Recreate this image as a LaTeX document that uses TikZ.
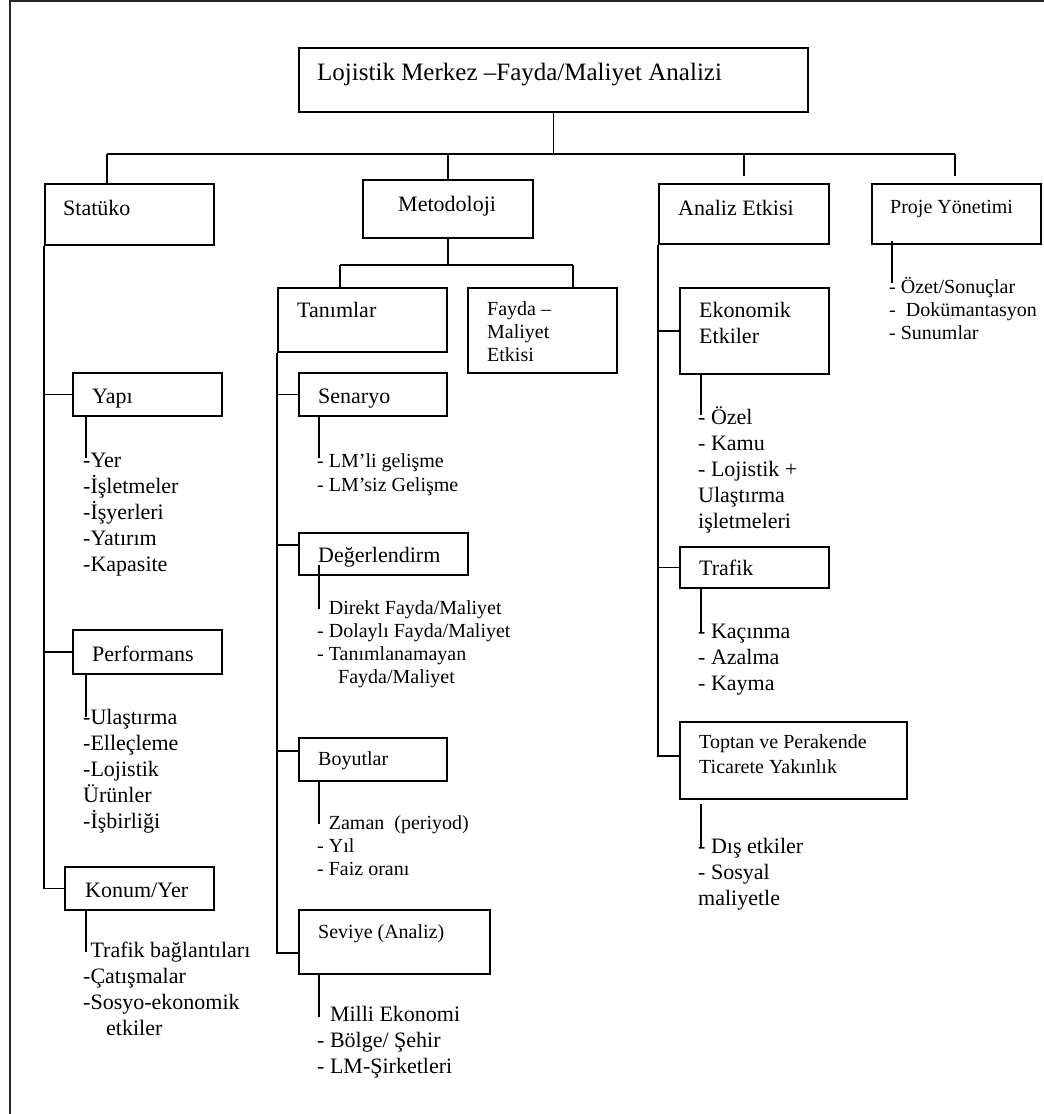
\documentclass[tikz,border=0pt]{standalone}
\usepackage{fontspec}
\setmainfont{Liberation Serif}
\usetikzlibrary{calc}

% type sizes (1pt = one unit of the drawing)
\newcommand\fa{\fontsize{22}{26}\selectfont}
\newcommand\fb{\fontsize{20}{23}\selectfont}
\newcommand\fbw{\fontsize{20}{24.5}\selectfont}
\newcommand\fbt{\fontsize{20}{25}\selectfont}
\newcommand\fc{\fontsize{25}{30}\selectfont}

\tikzset{
  box/.style={draw, line width=1.8pt, rectangle, inner sep=0pt, anchor=north west},
  lbl/.style={anchor=base west, inner sep=0pt, font=\fa},
  lbls/.style={anchor=base west, inner sep=0pt, font=\fb},
  lst/.style={anchor=north west, inner sep=0pt, align=left, font=\fa},
  lsts/.style={anchor=north west, inner sep=0pt, align=left, font=\fb},
  wire/.style={line width=1.8pt},
  frame/.style={line width=2pt, draw=black!85},
}

\begin{document}
\begin{tikzpicture}[x=1pt,y=-1pt]
\useasboundingbox (0,0) rectangle (1044,1114);

% page frame (top and left rules)
\draw[frame] (9.5,1114) -- (9.5,1) -- (1044,1);

% ---------- boxes ----------
\node[box, minimum width=509pt, minimum height=64pt] (title) at (298,47) {};
\node[box, minimum width=169pt, minimum height=61pt] (stat) at (44,183) {};
\node[box, minimum width=170pt, minimum height=58pt] (meto) at (362,179) {};
\node[box, minimum width=170pt, minimum height=60pt] (ana) at (658,183) {};
\node[box, minimum width=169pt, minimum height=60pt] (proj) at (871,183) {};

\node[box, minimum width=169pt, minimum height=64pt] (tan) at (277,287) {};
\node[box, minimum width=149pt, minimum height=85pt] (fay) at (467,287) {};
\node[box, minimum width=148pt, minimum height=43pt] (sen) at (298,372) {};
\node[box, minimum width=169pt, minimum height=42pt] (degr) at (298,532) {};
\node[box, minimum width=148pt, minimum height=43pt] (boy) at (298,737) {};
\node[box, minimum width=191pt, minimum height=64pt] (sev) at (298,909) {};

\node[box, minimum width=149pt, minimum height=43pt] (yapi) at (72,372) {};
\node[box, minimum width=149pt, minimum height=44pt] (perf) at (72,629) {};
\node[box, minimum width=149pt, minimum height=43pt] (konum) at (64,866) {};

\node[box, minimum width=149pt, minimum height=86pt] (eko) at (679,287) {};
\node[box, minimum width=149pt, minimum height=41pt] (traf) at (679,546) {};
\node[box, minimum width=227pt, minimum height=77pt] (topt) at (679,721) {};

% ---------- box captions ----------
\node[lbl, font=\fc] (title-t) at (317,80) {Lojistik Merkez –Fayda/Maliyet Analizi};
\node[lbl] (stat-t) at (63,215) {Statüko};
\node[lbl] (meto-t) at (398,211) {Metodoloji};
\node[lbl] (ana-t) at (678,215) {Analiz Etkisi};
\node[lbls] (proj-t) at (890,213) {Proje Yönetimi};

\node[lbl] (tan-t) at (297,317) {Tanımlar};
\node[lsts] (fay-t) at (487,298.9) {\strut Fayda –\\\strut Maliyet\\\strut Etkisi};
\node[lbl] (sen-t) at (318,403) {Senaryo};
\node[lbl] (degr-t) at (318,562) {Değerlendirm};
\node[lbls] (boy-t) at (318,765) {Boyutlar};
\node[lbls] (sev-t) at (318,938) {Seviye (Analiz)};

\node[lbl] (yapi-t) at (92,403) {Yapı};
\node[lbl] (perf-t) at (92,661) {Performans};
\node[lbl] (konum-t) at (85,897) {Konum/Yer};

\node[lst] (eko-t) at (699,298.8) {\strut Ekonomik\\\strut Etkiler};
\node[lbl] (traf-t) at (699,575) {Trafik};
\node[lsts, font=\fbt] (topt-t) at (699,730.5) {\strut Toptan ve Perakende\\\strut Ticarete Yakınlık};

% ---------- item lists ----------
\node[lst] (yapil) at (83,448.8) {\strut -Yer\\\strut -İşletmeler\\\strut -İşyerleri\\\strut -Yatırım\\\strut -Kapasite};
\node[lst] (perfl) at (83,705.8) {\strut -Ulaştırma\\\strut -Elleçleme\\\strut -Lojistik\\\strut Ürünler\\\strut -İşbirliği};
\node[lst] (konuml) at (83,938.8) {\strut\phantom{-}Trafik bağlantıları\\\strut -Çatışmalar\\\strut -Sosyo-ekonomik\\\strut\hspace{23pt}etkiler};

\node[lsts, font=\fbw] (senl) at (317,449.85) {\strut - LM’li gelişme\\\strut - LM’siz Gelişme};
\node[lsts] (degrl) at (317,597.9) {\strut\phantom{- }Direkt Fayda/Maliyet\\\strut - Dolaylı Fayda/Maliyet\\\strut - Tanımlanamayan\\\strut\hspace{21pt}Fayda/Maliyet};
\node[lsts] (boyl) at (317,812.9) {\strut\phantom{- }Zaman\ \ (periyod)\\\strut - Yıl\\\strut - Faiz oranı};
\node[lst] (sevl) at (317,1002.8) {\strut\phantom{- }Milli Ekonomi\\\strut - Bölge/ Şehir\\\strut - LM-Şirketleri};

\node[lst] (ekol) at (698,405.8) {\strut - Özel\\\strut - Kamu\\\strut - Lojistik +\\\strut Ulaştırma\\\strut işletmeleri};
\node[lst] (trafl) at (698,619.8) {\strut - Kaçınma\\\strut - Azalma\\\strut - Kayma};
\node[lst] (toptl) at (698,834.8) {\strut - Dış etkiler\\\strut - Sosyal\\\strut maliyetle};

\node[lsts] (projl) at (889,276.9) {\strut - Özet/Sonuçlar\\\strut -\ \ Dokümantasyon\\\strut - Sunumlar};

% ---------- connectors ----------
\coordinate (busL) at (107,154);
\coordinate (busR) at (955,154);
\coordinate (mbusL) at (340,265);
\coordinate (mbusR) at (573,265);

\draw[wire] (title.south) -- (title.south |- busL);
\draw[wire] (busL) -- (busR);
\draw[wire] (busL) -- (busL |- stat.north);
\draw[wire] (meto.north |- busL) -- (meto.north);
\draw[wire] (ana.north |- busL) -- ([yshift=7pt]ana.north);
\draw[wire] (busR) -- ([yshift=7pt]busR |- proj.north);

\draw[wire] (meto.south) -- (meto.south |- mbusL);
\draw[wire] (mbusL) -- (mbusR);
\draw[wire] (mbusL) -- (mbusL |- tan.north);
\draw[wire] (mbusR) -- (mbusR |- fay.north);

% Statüko branch
\draw[wire] (stat.south west) |- (yapi.west);
\draw[wire] (stat.south west) |- (perf.west);
\draw[wire] (stat.south west) |- (konum.west);
\draw[wire] ([xshift=14pt]yapi.south west) -- ([xshift=3pt,yshift=-9pt]yapil.north west);
\draw[wire] ([xshift=14pt]perf.south west) -- ([xshift=3pt,yshift=-11pt]perfl.north west);
\draw[wire] ([xshift=22pt]konum.south west) -- ([xshift=3pt,yshift=-13pt]konuml.north west);

% Tanımlar branch
\draw[wire] (tan.south west) |- (sen.west);
\draw[wire] (tan.south west) |- ([yshift=9pt]degr.west);
\draw[wire] (tan.south west) |- ([yshift=8.5pt]boy.west);
\draw[wire] (tan.south west) |- ([yshift=-11pt]sev.west);
\draw[wire] ([xshift=21pt]sen.south west) -- ([xshift=2pt,yshift=-8pt]senl.north west);
\draw[wire] ([xshift=21pt,yshift=-33pt]degr.north west) -- ([xshift=2pt,yshift=-11pt]degrl.north west);
\draw[wire] ([xshift=21pt]boy.south west) -- ([xshift=2pt,yshift=-11pt]boyl.north west);
\draw[wire] ([xshift=21pt]sev.south west) -- ([xshift=2pt,yshift=-14pt]sevl.north west);

% Analiz Etkisi branch
\draw[wire] (ana.south west) |- (eko.west);
\draw[wire] (ana.south west) |- (traf.west);
\draw[wire] (ana.south west) |- ([yshift=4.5pt]topt.west);
\draw[wire] ([xshift=22pt]eko.south west) -- ([xshift=3pt,yshift=-9pt]ekol.north west);
\draw[wire] ([xshift=22pt]traf.south west) -- ([xshift=3pt,yshift=-13pt]trafl.north west);
\draw[wire] ([xshift=22pt,yshift=-4pt]topt.south west) -- ([xshift=3pt,yshift=-12pt]toptl.north west);

% Proje Yönetimi branch
\draw[wire] ([xshift=21pt,yshift=4pt]proj.south west) -- ([xshift=3pt,yshift=-6pt]projl.north west);

\end{tikzpicture}
\end{document}
